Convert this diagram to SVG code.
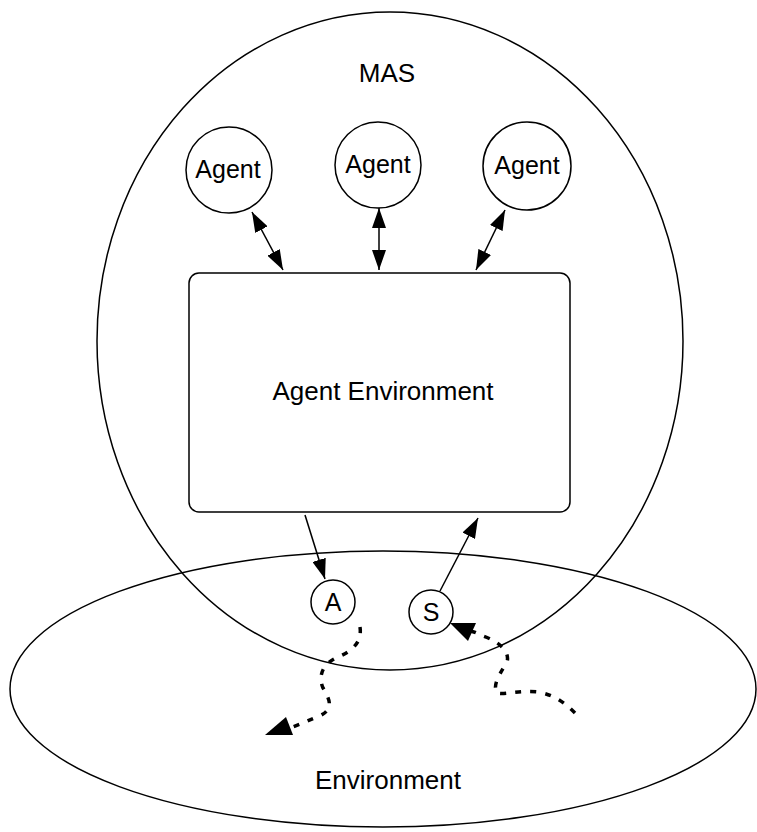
<svg xmlns="http://www.w3.org/2000/svg" width="757" height="832" viewBox="0 0 757 832">
<defs>
<style>
.sh{fill:none;stroke:#000;stroke-width:1.5}
.nd{fill:#fff;stroke:#000;stroke-width:1.5}
.t{font-family:"Liberation Sans",Arial,sans-serif;font-size:25px;fill:#000;text-anchor:middle}
.tl{font-size:26px}
.ln{fill:none;stroke:#000;stroke-width:1.5}
.dt{fill:none;stroke:#000;stroke-width:3.5;stroke-dasharray:6 9;stroke-linecap:butt}
</style>
<marker id="ah" viewBox="0 0 20 14" refX="20" refY="7" markerWidth="20" markerHeight="14" markerUnits="userSpaceOnUse" orient="auto-start-reverse">
<path d="M0,0 L20,7 L0,14 Z" fill="#000"/>
</marker>
</defs>
<g id="environment">
<ellipse class="sh" cx="383" cy="689" rx="373" ry="138"/>
<text class="t tl" x="388" y="789">Environment</text>
</g>
<g id="mas">
<ellipse class="sh" cx="390" cy="341" rx="293" ry="329"/>
<text class="t tl" x="387" y="82">MAS</text>
</g>
<g id="agent-environment">
<rect class="nd" x="189" y="273" width="381" height="239" rx="10" ry="10"/>
<text class="t tl" x="383" y="400">Agent Environment</text>
</g>
<g id="agent1">
<circle class="nd" cx="229" cy="170" r="43"/>
<text class="t" x="228" y="178">Agent</text>
</g>
<g id="agent2">
<circle class="nd" cx="378" cy="165" r="43"/>
<text class="t" x="378" y="173">Agent</text>
</g>
<g id="agent3">
<circle class="nd" cx="527" cy="166" r="44"/>
<text class="t" x="527" y="174">Agent</text>
</g>
<g id="actuator">
<circle class="nd" cx="333" cy="602" r="22"/>
<text class="t" x="333" y="611">A</text>
</g>
<g id="sensor">
<circle class="nd" cx="431" cy="612" r="22"/>
<text class="t" x="431" y="621">S</text>
</g>
<g id="connectors">
<line class="ln" x1="252" y1="212" x2="283" y2="270" marker-start="url(#ah)" marker-end="url(#ah)"/>
<line class="ln" x1="379" y1="208" x2="379" y2="270" marker-start="url(#ah)" marker-end="url(#ah)"/>
<line class="ln" x1="505" y1="210" x2="476" y2="270" marker-start="url(#ah)" marker-end="url(#ah)"/>
<line class="ln" x1="305" y1="515" x2="325" y2="579" marker-end="url(#ah)"/>
<line class="ln" x1="440" y1="591" x2="478" y2="518" marker-end="url(#ah)"/>
<path class="dt" d="M360,627 C362,640 355,650 338,657 C322,664 318,676 323,688 C330,700 335,710 317,717 C305,722 298,725 290,728"/>
<path d="M265,735 L293,735 L286,717 Z" fill="#000"/>
<path class="dt" d="M575,713 C565,703 555,695 538,692 C520,690 505,695 497,693 C493,686 497,678 507,662 C510,652 500,642 483,636 C478,634 476,632 470,631"/>
<path d="M450,623 L476,623 L468,641 Z" fill="#000"/>
</g>
</svg>
